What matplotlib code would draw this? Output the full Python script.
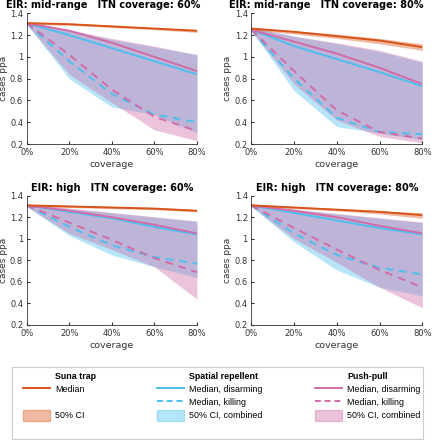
import matplotlib
matplotlib.use("Agg")
import matplotlib.pyplot as plt
from matplotlib.lines import Line2D
from matplotlib.patches import Patch, Rectangle

coverage = [0, 20, 40, 60, 80]
xticklabels = ["0%", "20%", "40%", "60%", "80%"]
yticks = [0.2, 0.4, 0.6, 0.8, 1.0, 1.2, 1.4]
yticklabels = ["0.2", "0.4", "0.6", "0.8", "1", "1.2", "1.4"]

titles = [
    "EIR: mid-range   ITN coverage: 60%",
    "EIR: mid-range   ITN coverage: 80%",
    "EIR: high   ITN coverage: 60%",
    "EIR: high   ITN coverage: 80%",
]

# Suna trap
suna_med = [
    [1.31, 1.30, 1.28, 1.26, 1.24],
    [1.26, 1.23, 1.19, 1.15, 1.09],
    [1.31, 1.30, 1.29, 1.28, 1.26],
    [1.31, 1.29, 1.27, 1.25, 1.22],
]
suna_lo = [
    [1.30, 1.29, 1.27, 1.25, 1.225],
    [1.25, 1.21, 1.17, 1.12, 1.06],
    [1.30, 1.29, 1.28, 1.27, 1.25],
    [1.30, 1.28, 1.26, 1.23, 1.19],
]
suna_hi = [
    [1.32, 1.31, 1.29, 1.27, 1.25],
    [1.27, 1.24, 1.21, 1.17, 1.12],
    [1.32, 1.31, 1.30, 1.29, 1.27],
    [1.32, 1.30, 1.28, 1.26, 1.24],
]

# Spatial repellent
sr_disarm = [
    [1.31, 1.20, 1.08, 0.96, 0.84],
    [1.25, 1.10, 0.98, 0.86, 0.73],
    [1.31, 1.25, 1.19, 1.11, 1.04],
    [1.31, 1.24, 1.17, 1.10, 1.04],
]
sr_kill = [
    [1.31, 0.96, 0.66, 0.47, 0.40],
    [1.25, 0.80, 0.44, 0.31, 0.29],
    [1.31, 1.11, 0.94, 0.83, 0.77],
    [1.31, 1.05, 0.85, 0.73, 0.67],
]
sr_lo = [
    [1.30, 0.80, 0.54, 0.47, 0.30],
    [1.24, 0.69, 0.36, 0.30, 0.24],
    [1.30, 1.03, 0.85, 0.74, 0.64],
    [1.30, 0.97, 0.71, 0.55, 0.47],
]
sr_hi = [
    [1.32, 1.24, 1.16, 1.09, 1.02],
    [1.27, 1.19, 1.12, 1.05, 0.95],
    [1.32, 1.28, 1.24, 1.20, 1.16],
    [1.32, 1.27, 1.23, 1.19, 1.15],
]

# Push-pull
pp_disarm = [
    [1.31, 1.24, 1.13, 1.00, 0.87],
    [1.25, 1.14, 1.03, 0.90, 0.75],
    [1.31, 1.26, 1.20, 1.13, 1.05],
    [1.31, 1.26, 1.20, 1.12, 1.05],
]
pp_kill = [
    [1.31, 1.02, 0.70, 0.45, 0.32],
    [1.25, 0.87, 0.51, 0.31, 0.25],
    [1.31, 1.15, 0.99, 0.82, 0.69],
    [1.31, 1.10, 0.90, 0.71, 0.55],
]
pp_lo = [
    [1.30, 0.84, 0.58, 0.33, 0.23],
    [1.24, 0.75, 0.42, 0.27, 0.21],
    [1.30, 1.05, 0.90, 0.74, 0.44],
    [1.30, 1.00, 0.78, 0.55, 0.36],
]
pp_hi = [
    [1.32, 1.25, 1.17, 1.10, 1.02],
    [1.27, 1.19, 1.13, 1.06, 0.96],
    [1.32, 1.285, 1.245, 1.205, 1.165],
    [1.32, 1.275, 1.235, 1.195, 1.155],
]

c_suna = "#D95319"
c_sr = "#4DBEEE"
c_pp = "#D06CA8"
c_ppfill = "#C960A0"
a_suna, a_sr, a_pp = 0.4, 0.4, 0.37
axcol = "#333333"

plt.rcParams["font.family"] = "DejaVu Sans"
fig = plt.figure(figsize=(4.36, 4.40), dpi=100)

positions = [
    [0.0612, 0.6727, 0.3906, 0.2970],
    [0.5764, 0.6727, 0.3922, 0.2970],
    [0.0612, 0.2614, 0.3906, 0.2939],
    [0.5764, 0.2614, 0.3922, 0.2939],
]
title_x = [0.448, 0.437, 0.5, 0.5]

for i in range(4):
    ax = fig.add_axes(positions[i])
    ax.fill_between(coverage, sr_lo[i], sr_hi[i], color=c_sr, alpha=a_sr, lw=0)
    ax.fill_between(coverage, pp_lo[i], pp_hi[i], color=c_ppfill, alpha=a_pp, lw=0)
    ax.fill_between(coverage, suna_lo[i], suna_hi[i], color=c_suna, alpha=a_suna, lw=0)
    ax.plot(coverage, sr_disarm[i], color=c_sr, lw=1.4)
    ax.plot(coverage, pp_disarm[i], color=c_pp, lw=1.4)
    ax.plot(coverage, sr_kill[i], color=c_sr, lw=1.4, ls=(0, (4, 3)))
    ax.plot(coverage, pp_kill[i], color=c_pp, lw=1.4, ls=(0, (4, 3)))
    ax.plot(coverage, suna_med[i], color=c_suna, lw=1.4)
    ax.set_xlim(0, 80)
    ax.set_ylim(0.2, 1.4)
    ax.set_xticks(coverage)
    ax.set_xticklabels(xticklabels)
    ax.set_yticks(yticks)
    ax.set_yticklabels(yticklabels)
    ax.tick_params(direction="in", length=2, labelsize=6, colors=axcol)
    ax.tick_params(axis="x", pad=3)
    ax.tick_params(axis="y", pad=2.5)
    for s in ["top", "right"]:
        ax.spines[s].set_visible(False)
    for s in ["left", "bottom"]:
        ax.spines[s].set_color(axcol)
        ax.spines[s].set_linewidth(0.6)
    ax.set_ylabel("cases ppa", fontsize=6.5, color=axcol)
    ax.yaxis.set_label_coords(-0.112, 0.5)
    ax.set_xlabel("coverage", fontsize=6.8, color=axcol, labelpad=2)
    ax.set_title(titles[i], fontsize=7, fontweight="bold", pad=3.5, x=title_x[i])

# legend frame
fig.add_artist(Rectangle((12 / 436, 1 / 440), 411 / 436, 72 / 440,
                         transform=fig.transFigure, fill=False,
                         edgecolor="#cccccc", lw=0.8))

lf = "Liberation Sans"
blank = Line2D([], [], color="none")
groups = [
    ([blank, Line2D([], [], color=c_suna, lw=1.4), blank,
      Patch(facecolor=c_suna, alpha=a_suna, edgecolor=c_suna)],
     ["Suna trap", "Median", " ", "50% CI"], 23),
    ([blank, Line2D([], [], color=c_sr, lw=1.4),
      Line2D([], [], color=c_sr, lw=1.4, ls=(0, (3, 2))),
      Patch(facecolor=c_sr, alpha=a_sr, edgecolor=c_sr)],
     ["Spatial repellent", "Median, disarming", "Median, killing", "50% CI, combined"], 157),
    ([blank, Line2D([], [], color=c_pp, lw=1.4),
      Line2D([], [], color=c_pp, lw=1.4, ls=(0, (3, 2))),
      Patch(facecolor=c_ppfill, alpha=a_pp, edgecolor=c_ppfill)],
     ["Push-pull", "Median, disarming", "Median, killing", "50% CI, combined"], 315),
]
for hs, ls, xpix in groups:
    leg = fig.legend(hs, ls, loc="upper left", bbox_to_anchor=(xpix / 436, 1 - 371 / 440),
                     frameon=False, prop={"family": lf, "size": 6.4},
                     handlelength=3.0, handleheight=1.55, handletextpad=0.65,
                     labelspacing=0.2, borderpad=0, borderaxespad=0)
    leg.get_texts()[0].set_fontweight("bold")

fig.savefig("out.png", dpi=100)
